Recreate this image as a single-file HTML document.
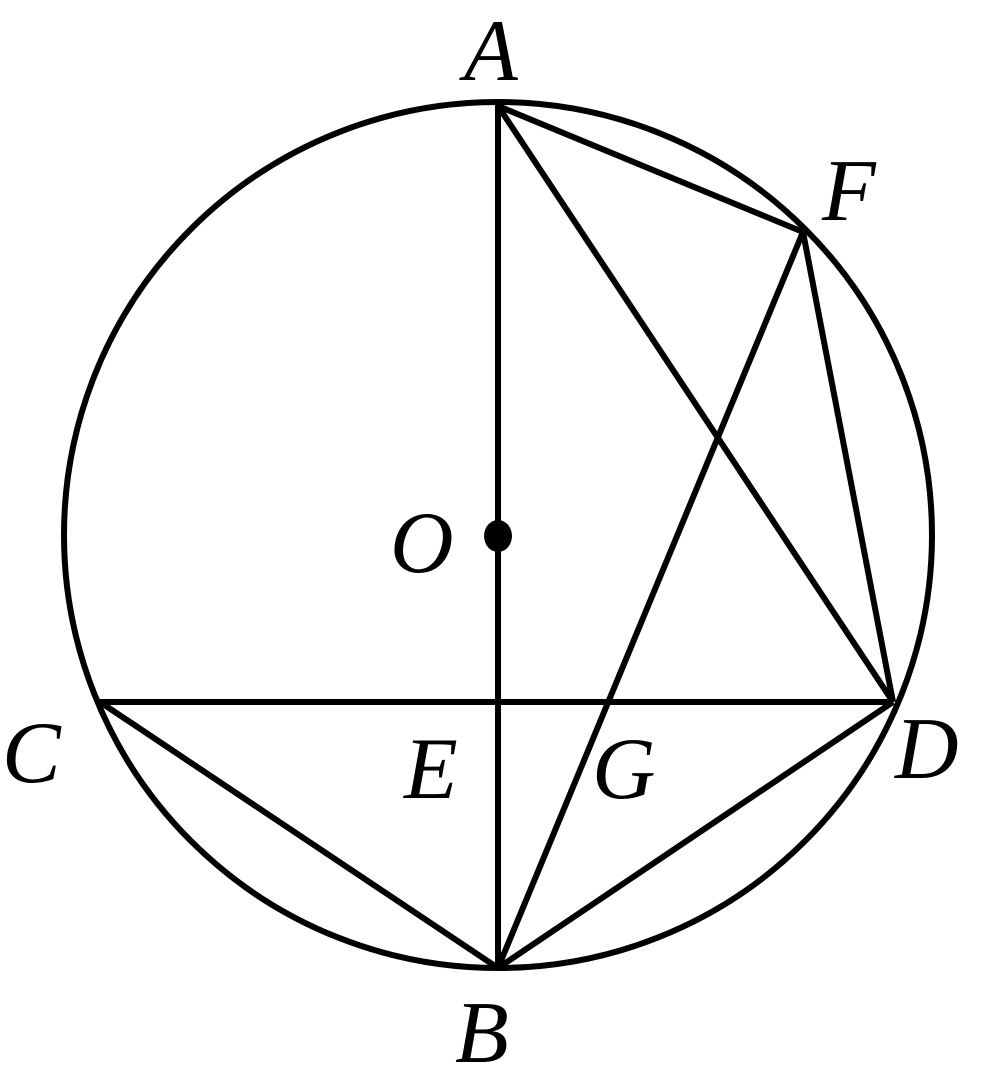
<!DOCTYPE html>
<html><head><style>html,body{margin:0;padding:0;background:#fff}
text{font-family:"Liberation Serif","Times New Roman",serif;font-style:italic;font-size:88px}</style></head>
<body>
<svg width="981" height="1069" viewBox="0 0 981 1069" xmlns="http://www.w3.org/2000/svg">
<g fill="none" stroke="#000" stroke-width="6" stroke-linejoin="round">
<ellipse cx="498" cy="535" rx="434" ry="433"/>
<line x1="498" y1="103" x2="498" y2="968"/>
<line x1="100" y1="702" x2="893" y2="702"/>
<line x1="100" y1="702" x2="498" y2="968"/>
<line x1="893" y1="702" x2="498" y2="968"/>
<line x1="498" y1="106" x2="893" y2="702"/>
<line x1="498" y1="106" x2="803" y2="232"/>
<line x1="803" y1="232" x2="893" y2="702"/>
<line x1="803" y1="232" x2="498" y2="968"/>
</g>
<ellipse cx="498" cy="536" rx="14" ry="16" fill="#000"/>
<g fill="#000">
<text x="464" y="80">A</text>
<text x="822" y="220">F</text>
<text x="390" y="572">O</text>
<text x="2" y="782">C</text>
<text x="404" y="798">E</text>
<text x="592" y="798">G</text>
<text x="895" y="778">D</text>
<text x="455" y="1062">B</text>
</g>
</svg>
</body></html>
